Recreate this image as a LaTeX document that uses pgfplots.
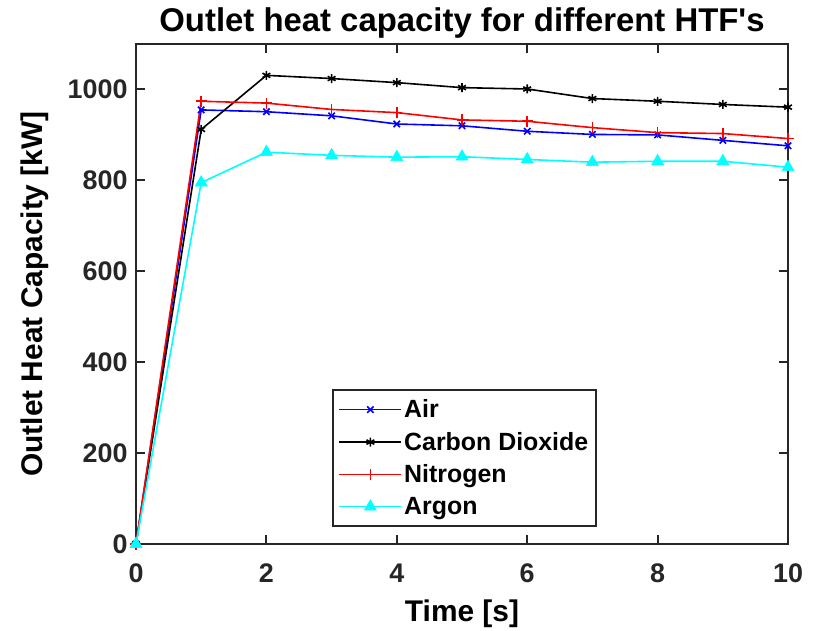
\documentclass[border=0pt]{standalone}
\usepackage{fontspec}
\setmainfont{Liberation Sans}
\usepackage{pgfplots}
\pgfplotsset{compat=1.18}
\definecolor{axgray}{rgb}{0.15,0.15,0.15}
\definecolor{mcyan}{rgb}{0,1,1}
\begin{document}
\begin{tikzpicture}
\begin{axis}[
  scale only axis, width=652bp, height=500bp,
  xmin=0, xmax=10, ymin=0, ymax=1100,
  xtick={0,2,...,10}, ytick={0,200,...,1000},
  tick align=inside,
  major tick length=9bp,
  axis line style={line width=2.2bp, draw=axgray},
  every tick/.style={line width=2bp, axgray},
  /pgf/number format/assume math mode=true,
  /pgf/number format/1000 sep={},
  tick label style={font=\fontsize{27}{30}\selectfont\bfseries, text=axgray},
  xticklabel style={yshift=-16bp},
  yticklabel style={xshift=-5bp},
  xlabel={Time [s]}, ylabel={Outlet Heat Capacity [kW]},
  label style={font=\fontsize{30}{32}\selectfont\bfseries},
  xlabel style={yshift=-10bp},
  ylabel style={yshift=12bp},
  title={Outlet heat capacity for different HTF\textquotesingle s},
  title style={font=\fontsize{33}{35}\selectfont\bfseries, yshift=-4bp},
  legend style={at={(0.30,0.034)}, anchor=south west,
    font=\fontsize{25}{28}\selectfont\bfseries, draw=axgray, line width=2bp,
    inner xsep=6bp, inner ysep=8bp, row sep=9bp},
  legend cell align=left,
  legend image code/.code={%
    \draw[#1, line width=1.6bp, mark=none] (0bp,0bp) -- (62bp,0bp);
    \draw[#1, line width=1.6bp] plot coordinates {(31bp,0bp)};},
]
\addplot[color=blue, line width=1.6bp, mark=x, mark size=4.5bp, mark options={line width=1.6bp}] coordinates {
(0,0) (1,955) (2,951) (3,942) (4,924) (5,920) (6,908) (7,901) (8,900) (9,888) (10,876)};
\addlegendentry{Air}
\addplot[color=black, line width=1.6bp, mark=asterisk, mark size=4.5bp, mark options={line width=1.6bp}] coordinates {
(0,0) (1,912) (2,1031) (3,1024) (4,1015) (5,1004) (6,1001) (7,980) (8,974) (9,967) (10,961)};
\addlegendentry{Carbon Dioxide}
\addplot[color=red, line width=1.6bp, mark=+, mark size=5.5bp, mark options={line width=1.6bp}] coordinates {
(0,0) (1,974) (2,970) (3,956) (4,949) (5,933) (6,930) (7,916) (8,905) (9,903) (10,892)};
\addlegendentry{Nitrogen}
\addplot[color=mcyan, line width=1.6bp, mark=triangle*, mark size=7bp, mark options={line width=0.5bp}] coordinates {
(0,0) (1,795) (2,862) (3,855) (4,851) (5,852) (6,846) (7,840) (8,842) (9,842) (10,829)};
\addlegendentry{Argon}
\end{axis}
\path (current axis.south west) ++(-136bp,-87bp) rectangle ++(815bp,631bp);
\end{tikzpicture}
\end{document}
